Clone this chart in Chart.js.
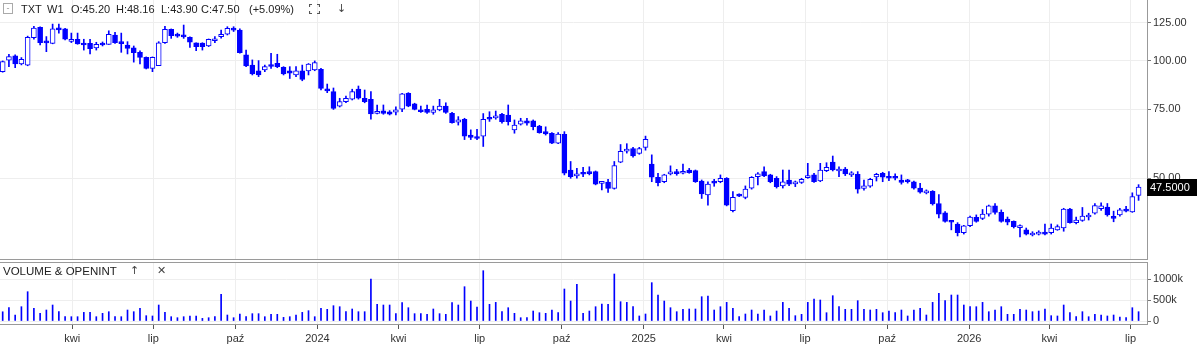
<!DOCTYPE html>
<html>
<head>
<meta charset="utf-8">
<script src="https://cdn.jsdelivr.net/npm/chart.js@4.4.0/dist/chart.umd.min.js"></script>
<style>
  html, body { margin: 0; padding: 0; background: #fff; }
  body { width: 1200px; height: 348px; position: relative; overflow: hidden; font-family: "Liberation Sans", Arial, sans-serif; }
  #price { position: absolute; left: 0; top: 0; }
  #volume { position: absolute; left: 0; top: 260px; }
  .hdr { position: absolute; font-size: 11px; color: #222; white-space: nowrap; line-height: 14px; }
  .sym { font-family: "DejaVu Sans", sans-serif; color: #444; }
  .sep { position: absolute; left: 0; width: 1148px; height: 0; border-top: 1px solid #9a9a9a; }
  .box { position: absolute; left: 3px; top: 3px; width: 8px; height: 9px; border: 1px solid #aaa; color: #999; font-size: 9px; line-height: 8px; text-align: center; }
</style>
</head>
<body>
<canvas id="price" width="1200" height="259"></canvas>
<canvas id="volume" width="1200" height="88"></canvas>
<div class="sep" style="top:259px"></div>
<div class="sep" style="top:262px"></div>

<div class="box">-</div>
<div class="hdr" style="left:21px;top:2px">TXT</div>
<div class="hdr" style="left:47px;top:2px">W1</div>
<div class="hdr" style="left:71px;top:2px">O:45.20</div>
<div class="hdr" style="left:116px;top:2px">H:48.16</div>
<div class="hdr" style="left:161px;top:2px">L:43.90</div>
<div class="hdr" style="left:201px;top:2px">C:47.50</div>
<div class="hdr" style="left:249px;top:2px">(+5.09%)</div>
<svg style="position:absolute;left:309px;top:4px" width="11" height="10" viewBox="0 0 11 10">
  <path d="M0.5 3V0.5H3M8 0.5H10.5V3M10.5 7V9.5H8M3 9.5H0.5V7" fill="none" stroke="#555" stroke-width="1.2"/>
</svg>
<div class="hdr sym" style="left:337px;top:2px">↓</div>

<div class="hdr" style="left:3px;top:264px;font-size:11.5px">VOLUME &amp; OPENINT</div>
<div class="hdr sym" style="left:130px;top:264px">↑</div>
<div class="hdr sym" style="left:157px;top:264px">✕</div>

<script>
// weekly candles, first week dated 2023-01-13
const startDate = '2023-01-13'

const tickDates = ['2023-04-01','2023-07-01','2023-10-01','2024-01-01','2024-04-01','2024-07-01','2024-10-01',
                   '2025-01-01','2025-04-01','2025-07-01','2025-10-01','2026-01-01','2026-04-01','2026-07-01']
const tickLabels = ['kwi','lip','paź','2024','kwi','lip','paź','2025','kwi','lip','paź','2026','kwi','lip']
const priceTicks = [50, 75, 100, 125]
const volumeTicks = [0, 500, 1000]   // thousands

const open = [
  93.7,100.2,102.8,98.0,97.4,114.4,121.7,111.5,110.7,120.6,120.5,112.0,113.4,110.7,110.7,107.8,110.7,110.0,116.3,110.9,
  109.6,107.8,105.0,101.9,95.5,97.1,111.1,120.3,116.0,115.5,114.7,111.1,110.9,109.0,112.4,115.1,116.8,121.0,119.7,103.4,
  97.4,94.2,94.6,97.1,98.4,96.1,94.1,91.9,94.2,94.1,94.6,95.0,84.4,83.3,76.5,78.5,79.7,84.5,80.1,79.6,
  73.3,74.4,74.0,73.8,75.1,82.5,77.5,74.8,75.0,73.7,74.8,76.5,73.3,69.6,70.8,64.5,63.7,64.1,71.5,71.3,
  72.9,72.6,66.5,68.8,70.1,70.1,68.0,65.8,65.2,61.5,64.8,52.5,50.7,51.5,51.6,52.0,48.5,48.9,47.1,55.0,
  58.7,59.6,57.9,60.0,54.4,50.3,49.0,51.3,51.7,51.5,52.5,52.3,49.2,45.3,49.0,49.0,50.0,41.3,45.4,44.7,
  47.2,50.5,52.0,51.0,50.0,47.8,49.5,48.4,48.8,50.2,51.0,49.2,52.3,55.0,52.2,52.8,51.0,51.2,47.1,47.7,
  50.4,51.5,50.5,50.3,49.5,49.5,49.0,47.2,45.9,46.3,43.1,40.8,38.8,38.2,36.3,37.8,39.7,39.5,40.5,42.5,
  40.9,39.3,38.8,37.4,36.9,35.8,36.0,36.4,36.3,36.9,37.3,41.7,38.5,39.0,39.8,40.7,41.8,42.2,39.9,40.3,
  41.4,41.0,45.20
]
const high = [
  99.8,103.7,103.4,101.8,115.5,122.4,122.1,115.2,124.0,124.0,121.0,117.6,117.6,113.4,113.4,111.4,111.6,119.2,118.1,117.6,
  111.8,109.0,106.0,102.2,102.2,111.8,122.4,120.5,117.6,123.3,115.1,111.1,111.1,113.6,115.2,119.7,122.1,122.1,120.5,106.4,
  100.4,100.0,97.4,104.4,103.8,96.5,96.5,96.5,97.4,98.3,99.8,95.6,87.1,85.1,80.1,81.2,84.5,86.1,84.1,83.3,
  77.0,77.0,74.5,76.2,82.5,82.8,77.8,76.5,77.0,76.5,79.6,78.0,73.7,71.9,71.2,66.5,66.7,73.2,74.0,74.3,
  73.3,77.0,70.5,71.2,71.2,70.5,68.3,67.7,65.4,65.4,65.8,55.2,53.0,53.3,53.5,52.2,49.1,49.7,55.2,61.0,
  61.3,60.0,60.0,64.1,57.4,51.5,51.2,53.8,52.7,54.4,53.0,52.5,49.5,49.0,49.7,51.0,50.2,46.2,45.6,47.8,
  50.5,51.7,53.5,51.2,50.5,52.5,52.5,49.2,50.0,54.6,51.5,54.6,54.8,57.0,53.5,53.3,52.0,52.0,49.5,50.0,
  51.5,51.8,52.0,51.3,51.0,49.7,49.2,48.5,46.7,46.5,45.4,41.1,38.9,38.5,37.9,40.0,40.3,41.6,42.7,43.1,
  41.5,39.8,38.9,38.0,37.3,36.5,36.7,38.2,38.2,38.0,41.9,41.9,39.8,42.1,40.7,43.1,43.3,43.1,41.2,41.9,
  42.4,45.9,48.16
]
const low = [
  93.4,96.5,95.9,97.5,97.0,113.4,109.6,105.4,110.4,117.6,112.9,111.2,110.1,106.4,104.0,106.4,109.0,110.0,110.7,105.0,
  104.0,99.1,98.0,95.2,93.7,97.1,110.7,114.0,114.7,114.0,108.1,106.0,106.4,108.6,111.1,114.2,116.3,118.7,104.4,96.5,
  91.9,91.0,93.7,95.5,95.9,91.9,90.0,91.0,88.8,91.9,94.2,84.1,82.8,75.0,76.1,78.1,79.3,79.7,78.0,70.8,
  73.0,72.9,72.6,72.6,74.0,76.2,74.8,73.7,73.3,72.9,74.4,73.3,69.2,68.4,62.8,62.8,62.8,60.3,69.9,70.8,
  69.2,68.4,65.2,68.4,68.4,66.5,65.2,64.5,61.3,61.3,51.0,50.0,50.0,50.5,51.0,48.1,46.7,46.0,46.9,54.8,
  58.0,56.6,57.6,59.0,49.0,47.8,48.7,51.0,50.9,51.3,51.5,48.8,44.4,42.7,47.7,48.7,42.5,41.0,44.9,44.3,
  46.9,48.1,50.5,48.7,47.2,47.2,47.9,47.6,48.5,50.0,48.8,49.0,52.0,52.2,50.5,50.8,50.5,45.8,46.6,47.4,
  49.2,49.0,49.3,49.5,48.3,48.6,46.9,45.8,45.6,42.7,39.6,38.6,36.9,35.6,36.0,37.6,38.6,39.2,40.0,40.5,
  38.6,38.0,37.3,35.4,35.8,35.6,35.8,35.8,36.0,36.8,36.6,38.4,38.2,38.8,39.1,40.5,41.4,40.0,38.7,40.0,
  41.0,40.9,43.90
]
const close = [
  99.4,102.4,98.0,100.8,114.7,121.2,111.1,111.0,120.5,119.8,113.4,112.6,110.3,109.6,107.3,110.1,109.6,116.8,111.1,110.5,
  107.5,104.8,101.9,95.5,101.9,111.1,120.3,115.8,115.5,115.0,111.4,108.6,108.6,113.4,113.2,116.8,121.0,119.7,104.8,96.9,
  92.4,91.9,96.5,96.6,96.5,92.4,92.8,94.2,89.5,98.0,98.8,84.9,83.7,75.5,78.5,80.1,83.3,80.1,78.5,73.0,
  74.0,73.3,72.9,74.8,82.2,76.5,75.0,74.0,73.7,74.8,76.5,73.7,69.4,70.5,64.1,63.6,63.2,70.8,70.8,72.2,
  69.8,69.8,68.4,70.1,69.2,67.8,65.4,64.9,61.5,64.9,51.5,50.5,51.3,51.2,51.4,48.3,49.0,47.1,53.9,58.6,
  59.3,57.0,59.6,62.9,50.3,48.7,51.0,51.8,51.4,51.8,51.7,49.0,45.6,48.3,48.6,50.0,42.7,44.7,45.0,46.9,
  50.3,51.3,50.7,49.0,47.6,49.0,48.3,48.8,49.7,50.4,49.0,52.5,53.3,52.5,52.7,51.3,51.5,46.9,47.8,49.7,
  51.2,50.3,50.0,50.0,48.8,49.0,47.2,46.1,46.4,43.0,40.5,38.8,38.6,36.3,37.8,39.8,38.8,40.5,42.5,40.9,
  38.8,38.6,37.6,37.8,36.0,36.2,36.4,36.0,37.3,37.6,41.7,38.5,39.1,40.0,39.9,42.6,42.5,40.3,39.5,41.5,
  41.2,44.9,47.50
]
// weekly volume, thousands of shares
const volume = [
  220,317,143,341,698,302,183,262,381,222,103,103,103,206,206,103,183,222,103,103,
  262,222,302,127,120,381,206,103,79,103,120,120,63,79,103,635,143,79,167,103,
  175,175,103,159,159,87,103,143,206,246,103,302,278,365,341,222,286,222,222,1000,
  397,381,381,175,436,317,175,175,159,286,175,159,436,381,817,476,333,1198,397,444,
  222,317,183,79,79,238,198,183,262,198,762,476,873,183,238,341,405,397,1119,460,
  444,341,120,167,913,619,476,317,222,278,286,286,579,595,262,341,444,302,103,167,
  262,167,262,120,238,444,302,127,159,444,524,500,198,603,341,278,278,484,278,262,
  278,198,238,198,262,120,262,302,143,444,659,484,619,619,381,341,341,444,222,262,
  341,159,159,278,262,222,238,286,127,120,381,198,103,222,103,159,143,120,143,95,
  79,317,222
]

const BLUE = '#0000ff'
const WEEK = 7 * 24 * 3600 * 1000
const tickPos = tickDates.map(d => (Date.parse(d) - Date.parse(startDate)) / WEEK)
const xMin = -0.43, xMax = 183.35

Chart.defaults.font.family = '"Liberation Sans", Arial, sans-serif'
Chart.defaults.font.size = 11
Chart.defaults.color = '#333'

const lastPriceTag = {
  id: 'lastPriceTag',
  afterDraw(chart) {
    const { ctx } = chart
    const y = chart.scales.y
    const last = close[close.length - 1]
    const py = Math.round(y.getPixelForValue(last))
    ctx.save()
    ctx.fillStyle = '#000'
    ctx.fillRect(y.left, py - 8, 50, 17)
    ctx.fillStyle = '#fff'
    ctx.font = '11px "Liberation Sans", Arial, sans-serif'
    ctx.textBaseline = 'middle'
    ctx.fillText(last.toFixed(4), y.left + 3, py + 1)
    ctx.restore()
  }
}

const xGridTicks = s => { s.ticks = tickPos.map(v => ({ value: v })) }

new Chart(document.getElementById('price'), {
  type: 'bar',
  data: {
    datasets: [
      {
        data: close.map((c, i) => ({ x: i, y: [open[i], c] })),
        backgroundColor: close.map((c, i) => c >= open[i] ? '#fff' : BLUE),
        borderColor: BLUE,
        borderWidth: 1,
        borderSkipped: false,
        barThickness: 5,
        minBarLength: 2,
        order: 0
      },
      {
        data: close.map((c, i) => ({ x: i, y: [low[i], high[i]] })),
        backgroundColor: BLUE,
        borderWidth: 0,
        barThickness: 1,
        order: 1
      }
    ]
  },
  options: {
    responsive: false,
    animation: false,
    devicePixelRatio: 1,
    layout: { padding: 0 },
    datasets: { bar: { grouped: false } },
    plugins: { legend: { display: false }, tooltip: { enabled: false } },
    scales: {
      x: {
        type: 'linear', min: xMin, max: xMax, offset: false,
        grid: { color: '#eeeeee', drawTicks: false, offset: false },
        border: { display: false },
        ticks: { display: false },
        afterBuildTicks: xGridTicks,
        afterFit: s => { s.height = 0; s.paddingLeft = 0; s.paddingRight = 0 }
      },
      y: {
        type: 'logarithmic', position: 'right', min: 31.08, max: 142.9,
        grid: { color: '#eeeeee', tickColor: '#777', tickLength: 4 },
        border: { color: '#999' },
        ticks: { padding: 2, color: '#333', callback: v => Number(v).toFixed(2) },
        afterBuildTicks: s => { s.ticks = priceTicks.map(v => ({ value: v })) },
        afterFit: s => { s.width = 53; s.paddingTop = 0; s.paddingBottom = 0 }
      }
    }
  },
  plugins: [lastPriceTag]
})

new Chart(document.getElementById('volume'), {
  type: 'bar',
  data: {
    datasets: [{
      data: volume.map((v, i) => ({ x: i, y: v })),
      backgroundColor: BLUE,
      borderWidth: 0,
      barThickness: 1
    }]
  },
  options: {
    responsive: false,
    animation: false,
    devicePixelRatio: 1,
    layout: { padding: { top: 3, left: 0, right: 0, bottom: 0 } },
    plugins: { legend: { display: false }, tooltip: { enabled: false } },
    scales: {
      x: {
        type: 'linear', min: xMin, max: xMax, offset: false,
        grid: { color: '#eeeeee', tickColor: '#555', tickLength: 5, offset: false },
        border: { color: '#999' },
        ticks: { padding: 3, color: '#333', maxRotation: 0, autoSkip: false, callback: (v, i) => tickLabels[i] },
        afterBuildTicks: xGridTicks,
        afterFit: s => { s.height = 24; s.paddingLeft = 0; s.paddingRight = 0 }
      },
      y: {
        type: 'linear', position: 'right', min: -71, max: 1381,
        grid: { color: '#eeeeee', tickColor: '#777', tickLength: 4 },
        border: { color: '#999' },
        ticks: { padding: 2, color: '#333', callback: v => v === 0 ? '0' : v + 'k' },
        afterBuildTicks: s => { s.ticks = volumeTicks.map(v => ({ value: v })) },
        afterFit: s => { s.width = 53; s.paddingTop = 0; s.paddingBottom = 0 }
      }
    }
  }
})
</script>
</body>
</html>
